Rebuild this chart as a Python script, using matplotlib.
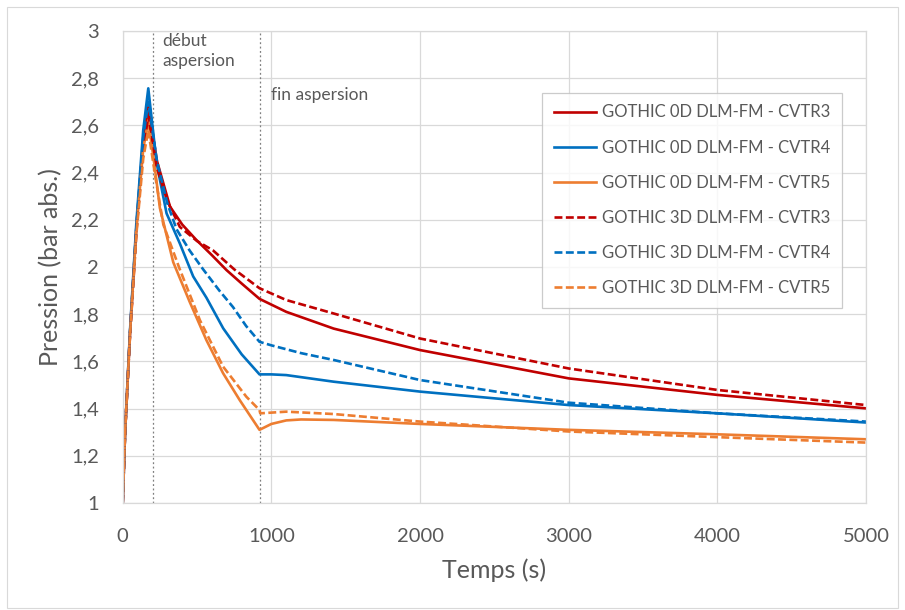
import numpy as np
import matplotlib.pyplot as plt
from matplotlib.patches import Rectangle

plt.rcParams['font.family'] = ['Lato', 'DejaVu Sans']

# temps (s) and pression (bar abs.)
t_r0 = [0, 16, 49, 92, 138, 172, 230, 318, 400, 496, 600, 698, 800, 920,
        1100, 1419, 2000, 3000, 4000, 5000]
p_r0 = [1.0, 1.30, 1.72, 2.17, 2.54, 2.68, 2.45, 2.256, 2.18, 2.114, 2.05, 1.987, 1.93, 1.865,
        1.81, 1.739, 1.648, 1.528, 1.458, 1.401]

t_b0 = [0, 16, 49, 92, 138, 172, 228, 295, 384, 474, 563, 676, 800, 920,
        1000, 1100, 1419, 2000, 3000, 4000, 5000]
p_b0 = [1.0, 1.30, 1.73, 2.19, 2.58, 2.757, 2.44, 2.227, 2.10, 1.96, 1.87, 1.74, 1.63, 1.545,
        1.545, 1.542, 1.514, 1.472, 1.415, 1.38, 1.341]

t_o0 = [0, 16, 49, 92, 138, 172, 210, 250, 340, 452, 563, 675, 787, 920,
        1000, 1100, 1200, 1419, 2000, 3000, 4000, 5000]
p_o0 = [1.0, 1.30, 1.72, 2.16, 2.50, 2.62, 2.45, 2.25, 2.02, 1.85, 1.69, 1.55, 1.436, 1.31,
        1.335, 1.350, 1.354, 1.352, 1.335, 1.31, 1.291, 1.270]

t_r3 = [0, 16, 49, 92, 138, 172, 230, 300, 384, 500, 608, 750, 920,
        1100, 1419, 2000, 3000, 4000, 5000]
p_r3 = [1.0, 1.30, 1.71, 2.15, 2.50, 2.64, 2.42, 2.28, 2.17, 2.11, 2.07, 1.99, 1.91,
        1.86, 1.803, 1.697, 1.57, 1.479, 1.415]

t_b3 = [0, 16, 49, 92, 138, 172, 230, 300, 362, 450, 541, 650, 742, 830, 920,
        1000, 1200, 1419, 2000, 3000, 4000, 5000]
p_b3 = [1.0, 1.30, 1.72, 2.17, 2.55, 2.70, 2.45, 2.27, 2.16, 2.07, 1.99, 1.90, 1.83, 1.75, 1.683,
        1.668, 1.635, 1.606, 1.521, 1.425, 1.38, 1.345]

t_o3 = [0, 16, 49, 92, 138, 172, 220, 273, 384, 519, 675, 832, 920,
        925, 1100, 1419, 2000, 3000, 4000, 5000]
p_o3 = [1.0, 1.30, 1.71, 2.14, 2.46, 2.58, 2.38, 2.18, 1.99, 1.775, 1.578, 1.45, 1.394,
        1.380, 1.387, 1.377, 1.345, 1.303, 1.279, 1.256]

series = [
    (t_r0, p_r0, 'GOTHIC 0D DLM-FM - CVTR3', '#C00000', '-'),
    (t_b0, p_b0, 'GOTHIC 0D DLM-FM - CVTR4', '#0070C0', '-'),
    (t_o0, p_o0, 'GOTHIC 0D DLM-FM - CVTR5', '#ED7D31', '-'),
    (t_r3, p_r3, 'GOTHIC 3D DLM-FM - CVTR3', '#C00000', '--'),
    (t_b3, p_b3, 'GOTHIC 3D DLM-FM - CVTR4', '#0070C0', '--'),
    (t_o3, p_o3, 'GOTHIC 3D DLM-FM - CVTR5', '#ED7D31', '--'),
]

t_debut = 203
t_fin = 921

y_ticks = [1, 1.2, 1.4, 1.6, 1.8, 2, 2.2, 2.4, 2.6, 2.8, 3]
y_labels = ['1', '1,2', '1,4', '1,6', '1,8', '2', '2,2', '2,4', '2,6', '2,8', '3']
x_ticks = [0, 1000, 2000, 3000, 4000, 5000]

fig = plt.figure(figsize=(9.05, 6.1), dpi=100)
ax = fig.add_axes([0.1356, 0.1754, 0.8214, 0.7738])

grid_col = '#D9D9D9'
text_col = '#595959'

for t, p, lab, col, ls in series:
    line, = ax.plot(t, p, color=col, lw=1.9, label=lab)
    if ls == '--':
        line.set_dashes((3, 1.3))

for tv in (t_debut, t_fin):
    ax.axvline(tv, color='#7F7F7F', lw=0.9, ls=(0, (1.5, 2)), zorder=1)

ax.text(268, 2.99, 'début\naspersion', fontsize=12.5, color=text_col,
        va='top', ha='left', linespacing=1.25)
ax.text(1000, 2.73, 'fin aspersion', fontsize=12.5, color=text_col,
        va='center', ha='left')

ax.set_xlim(0, 5000)
ax.set_ylim(1, 3)
ax.set_xticks(x_ticks)
ax.set_yticks(y_ticks)
ax.set_yticklabels(y_labels)
ax.tick_params(length=0, labelsize=14.5, colors=text_col)
ax.tick_params(axis='y', pad=17)
ax.tick_params(axis='x', pad=18)
ax.grid(color=grid_col, lw=0.9)
ax.set_axisbelow(True)
for s in ax.spines.values():
    s.set_color(grid_col)
    s.set_linewidth(0.9)

ax.set_xlabel('Temps (s)', fontsize=18, color=text_col, labelpad=10)
ax.set_ylabel('Pression (bar abs.)', fontsize=18, color=text_col, labelpad=6)

leg = ax.legend(loc='upper right', bbox_to_anchor=(0.968, 0.869), fontsize=12,
                frameon=True, fancybox=False, handlelength=2.5, labelspacing=1.15,
                borderpad=0.7, handletextpad=0.4, borderaxespad=0)
leg.get_frame().set_edgecolor('#BFBFBF')
leg.get_frame().set_linewidth(0.9)
for txt in leg.get_texts():
    txt.set_color(text_col)

fig.patches.append(Rectangle((7 / 905, 2 / 610), 891 / 905, 601 / 610,
                             transform=fig.transFigure, fill=False,
                             edgecolor='#D9D9D9', lw=0.8))

fig.savefig('out.png', dpi=100)
